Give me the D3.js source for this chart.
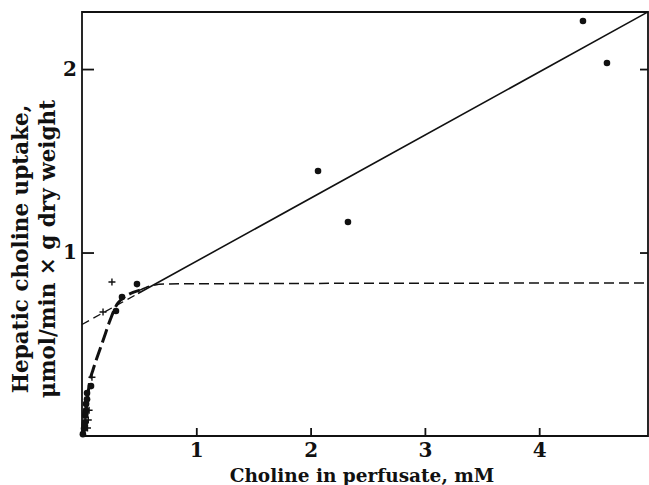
<!DOCTYPE html>
<html><head><meta charset="utf-8">
<script src="https://cdn.jsdelivr.net/npm/d3@7"></script>
<style>body{margin:0;background:#fff}svg{display:block}text{font-family:"DejaVu Serif","Liberation Serif",serif;fill:#111}</style>
</head><body><svg id="c" width="649" height="485"></svg>
<script>
// ---- data ----
const xTicks = [1, 2, 3, 4];
const yTicks = [1, 2];
const dotsX = [2.065, 2.327, 4.383, 4.593, 0.481, 0.350, 0.297, 0.079, 0.044, 0.008, 0.018, 0.026, 0.028, 0.036, 0.036, 0.044, 0.022, 0.03];
const dotsY = [1.444, 1.166, 2.262, 2.033, 0.828, 0.757, 0.681, 0.272, 0.234, 0.01, 0.04, 0.075, 0.11, 0.14, 0.175, 0.2, 0.06, 0.125];
const plusX = [0.262, 0.184, 0.087, 0.055, 0.062, 0.048];
const plusY = [0.839, 0.676, 0.32, 0.087, 0.14, 0.044];
// linear component: y = intercept + slope * x
const linIntercept = 0.608, linSlope = 0.344;
const linSolidX = [0.49, 4.952];
const linDashX = [0, 0.49];
// saturable curve
const curveLowX = [0.009, 0.035, 0.07, 0.096, 0.184, 0.245, 0.315, 0.507];
const curveLowY = [0.005, 0.14, 0.305, 0.36, 0.52, 0.63, 0.725, 0.795];
const curveHighX = [0.507, 0.595, 0.726, 1.0, 4.952];
const curveHighY = [0.795, 0.817, 0.828, 0.83, 0.834];

const svg = d3.select("#c");
const x = d3.scaleLinear().domain([0, 4.952]).range([82, 648]);
const y = d3.scaleLinear().domain([0, 2.311]).range([436, 12]);
const X0 = x(0), X1 = x(4.952), Y0 = y(0), Y1 = y(2.311);

// frame
const ink = "#111";
svg.append("path").attr("d", `M${X0},${Y1}H${X1}V${Y0}H${X0}Z`).attr("fill","none").attr("stroke",ink).attr("stroke-width",1.8);

// axes
const bottom = svg.append("g").attr("transform",`translate(0,${Y0})`)
  .call(d3.axisBottom(x).tickValues(xTicks).tickSizeInner(-8).tickSizeOuter(0).tickPadding(7).tickFormat(d3.format("d")));
const left = svg.append("g").attr("transform",`translate(${X0},0)`)
  .call(d3.axisLeft(y).tickValues(yTicks).tickSizeInner(-12).tickSizeOuter(0).tickPadding(5).tickFormat(d3.format("d")));
const right = svg.append("g").attr("transform",`translate(${X1},0)`)
  .call(d3.axisRight(y).tickValues(yTicks).tickSizeInner(-8).tickSizeOuter(0).tickFormat(""));
[bottom,left,right].forEach(g=>{
  g.select(".domain").remove();
  g.selectAll(".tick line").attr("stroke",ink).attr("stroke-width",1.8);
  g.selectAll(".tick text").attr("fill",ink).style("font-size","20px").style("font-weight","bold").style("font-family",'"DejaVu Serif",serif');
});

// lines
const line = d3.line().x(d=>x(d[0])).y(d=>y(d[1]));
svg.append("path").datum(linSolidX.map(v=>[v, linIntercept+linSlope*v])).attr("d",line)
  .attr("fill","none").attr("stroke",ink).attr("stroke-width",1.6);
svg.append("path").datum(linDashX.map(v=>[v, linIntercept+linSlope*v])).attr("d",line)
  .attr("fill","none").attr("stroke",ink).attr("stroke-width",1.3).attr("stroke-dasharray","8,5");
const curve = d3.line().x(d=>x(d[0])).y(d=>y(d[1])).curve(d3.curveMonotoneX);
svg.append("path").datum(curveLowX.map((v,i)=>[v,curveLowY[i]])).attr("d",curve)
  .attr("fill","none").attr("stroke",ink).attr("stroke-width",3).attr("stroke-dasharray","14,5");
svg.append("path").datum(curveHighX.map((v,i)=>[v,curveHighY[i]])).attr("d",curve)
  .attr("fill","none").attr("stroke",ink).attr("stroke-width",1.5).attr("stroke-dasharray","10,5");

// points
svg.append("g").selectAll("circle").data(dotsX.map((v,i)=>[v,dotsY[i]])).join("circle")
  .attr("cx",d=>x(d[0])).attr("cy",d=>y(d[1])).attr("r",3.3).attr("fill",ink);
svg.append("g").selectAll("path").data(plusX.map((v,i)=>[v,plusY[i]])).join("path")
  .attr("d",d=>`M${x(d[0])-3.5},${y(d[1])}h7M${x(d[0])},${y(d[1])-3.5}v7`)
  .attr("stroke",ink).attr("stroke-width",1.4);

// titles
svg.append("text").attr("x",362).attr("y",482).attr("text-anchor","middle")
  .style("font-size","18.5px").style("font-weight","bold").text("Choline in perfusate, mM");
const yt = svg.append("text").attr("transform","translate(0,249) rotate(-90)").attr("text-anchor","middle")
  .style("font-size","21.5px").style("font-weight","bold");
yt.append("tspan").attr("x",0).attr("y",28).text("Hepatic choline uptake,");
yt.append("tspan").attr("x",0).attr("y",55).text("\u03bcmol/min \u00d7 g dry weight");
</script></body></html>
